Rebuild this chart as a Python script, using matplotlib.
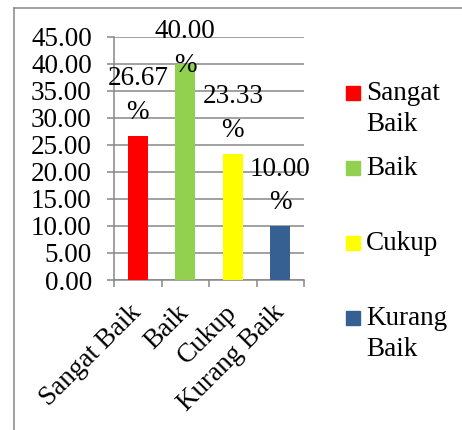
import numpy as np
import matplotlib
matplotlib.use('Agg')
from matplotlib import pyplot as plt
from matplotlib.lines import Line2D
from matplotlib.patches import Rectangle

categories = ['Sangat Baik', 'Baik', 'Cukup', 'Kurang Baik']
legend_labels = ['Sangat\nBaik', 'Baik', 'Cukup', 'Kurang\nBaik']
values = [26.67, 40.00, 23.33, 10.00]
colors = ['#FF0000', '#92D050', '#FFFF00', '#376092']
yticks = np.arange(0, 50, 5)

plt.rcParams['font.family'] = ['Liberation Serif', 'DejaVu Serif']
fs = 19.5
grey = '#878787'

W, H = 462, 430
fig = plt.figure(figsize=(W / 100, H / 100), dpi=100)
ax = fig.add_axes([114 / W, 1 - 280 / H, 190 / W, (280 - 36.7) / H])

x = np.arange(len(categories))
ax.bar(x, values, width=0.42, color=colors, zorder=3)

ax.set_xlim(-0.5, len(categories) - 0.5)
ax.set_ylim(0, 45)
ax.set_yticks(yticks)
ax.set_yticklabels(['%.2f' % t for t in yticks], fontsize=fs)
ax.yaxis.grid(True, color=grey, linewidth=1.1, zorder=0)
ax.tick_params(axis='y', length=5, width=1.1, color=grey, pad=11)

# x ticks sit between categories, labels at centres
ax.set_xticks(np.arange(-0.5, len(categories), 1.0))
ax.set_xticklabels([])
ax.set_xticks(x, minor=True)
ax.set_xticklabels(categories, minor=True, fontsize=fs, rotation=45,
                   ha='right', va='center', rotation_mode='anchor')
ax.tick_params(axis='x', which='major', length=5, width=1.1, color=grey)
ax.tick_params(axis='x', which='minor', length=0, pad=21)

for s in ['top', 'right']:
    ax.spines[s].set_visible(False)
for s in ['left', 'bottom']:
    ax.spines[s].set_color(grey)
    ax.spines[s].set_linewidth(1.1)

# data labels, wrapped like the original; kept inside the chart at the top
for xi, v in zip(x, values):
    ax.text(xi, min(v + 2.0, 37.4), '%.2f\n%%' % v, ha='center', va='bottom',
            fontsize=fs, linespacing=1.45, zorder=4)

# legend drawn by hand so entries stay evenly spaced
for i, (lab, c) in enumerate(zip(legend_labels, colors)):
    yc = 93 + 75 * i
    fig.add_artist(Rectangle((346 / W, 1 - (yc + 7) / H), 14 / W, 14 / H,
                             transform=fig.transFigure, color=c))
    fig.text(366 / W, 1 - (yc - 12) / H, lab, fontsize=fs, va='top',
             ha='left', linespacing=1.3)

# chart frame (only top and left visible in the crop)
fig.add_artist(Line2D([14 / W, 1], [1 - 8 / H, 1 - 8 / H], color=grey,
                      linewidth=1.1, transform=fig.transFigure))
fig.add_artist(Line2D([14 / W, 14 / W], [0, 1 - 8 / H], color=grey,
                      linewidth=1.1, transform=fig.transFigure))

fig.savefig('out.png', dpi=100)
